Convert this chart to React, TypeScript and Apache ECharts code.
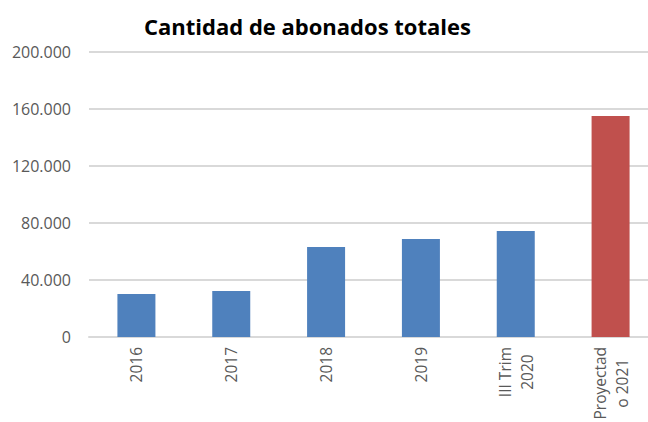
import React, { useEffect, useRef } from "react";
import * as echarts from "echarts";

const categories = ["2016", "2017", "2018", "2019", "III Trim\n2020", "Proyectad\no 2021"];
const values = [30200, 32300, 63200, 68800, 74400, 155100];
const barColors = ["#4F81BD", "#4F81BD", "#4F81BD", "#4F81BD", "#4F81BD", "#C0504D"];
const titleText = "Cantidad de abonados totales";

function fmt(v: number): string {
  return String(v).replace(/\B(?=(\d{3})+(?!\d))/g, ".");
}

export default function App() {
  const ref = useRef<HTMLDivElement>(null);
  useEffect(() => {
    if (!ref.current) return;
    const chart = echarts.init(ref.current, undefined, { renderer: "svg" });
    chart.setOption({
      animation: false,
      backgroundColor: "#ffffff",
      title: {
        text: titleText,
        left: 139,
        top: 10,
        textStyle: {
          fontFamily: "Open Sans",
          fontWeight: "bold",
          fontSize: 22,
          color: "#000000",
        },
      },
      grid: {
        left: 89,
        top: 52,
        width: 569,
        height: 285,
        containLabel: false,
        outerBoundsMode: "none",
      },
      xAxis: {
        type: "category",
        data: categories,
        axisTick: { show: false },
        axisLine: { lineStyle: { color: "#d9d9d9", width: 2 } },
        axisLabel: {
          rotate: 90,
          margin: 10,
          interval: 0,
          formatter: (v: string) => v.split("\n").map((s) => "{c|" + s + "}").join("\n"),
          rich: {
            c: {
              align: "center",
              fontFamily: "Open Sans",
              fontSize: 15.5,
              color: "#595959",
              lineHeight: 22,
            },
          },
        },
      },
      yAxis: {
        type: "value",
        min: 0,
        max: 200000,
        interval: 40000,
        axisLine: { show: false },
        axisTick: { show: false },
        splitLine: { lineStyle: { color: "#d9d9d9", width: 2 } },
        axisLabel: {
          margin: 18,
          fontFamily: "Open Sans",
          fontSize: 16,
          color: "#595959",
          formatter: (v: number) => fmt(v),
        },
      },
      series: [
        {
          type: "bar",
          barWidth: 38,
          data: values.map((v, i) => ({ value: v, itemStyle: { color: barColors[i] } })),
        },
      ],
    });
    return () => chart.dispose();
  }, []);
  return (
    <div
      ref={ref}
      style={{ width: 648, height: 422, position: "absolute", left: 0, top: 0, overflow: "hidden" }}
    />
  );
}
